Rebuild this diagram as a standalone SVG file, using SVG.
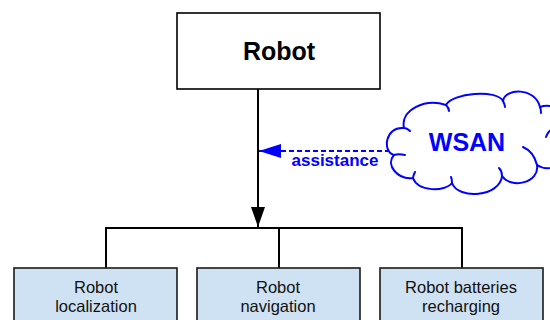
<svg xmlns="http://www.w3.org/2000/svg" width="550" height="320" viewBox="0 0 550 320">
  <defs>
    <marker id="arrowBlack" viewBox="0 0 20 14" refX="20" refY="7" markerWidth="20" markerHeight="14" markerUnits="userSpaceOnUse" orient="auto">
      <path d="M0,0 L20,7 L0,14 Z" fill="#000"/>
    </marker>
    <marker id="arrowBlue" viewBox="0 0 22 14" refX="22" refY="7" markerWidth="22" markerHeight="14" markerUnits="userSpaceOnUse" orient="auto">
      <path d="M0,0 L22,7 L0,14 Z" fill="#0000ff"/>
    </marker>
    <style>
      .box { fill: #ffffff; stroke: #000; stroke-width: 1.6; }
      .task { fill: #cfe2f3; stroke: #1a1a1a; stroke-width: 1.6; }
      .wire { fill: none; stroke: #000; stroke-width: 2; }
      .label { font-family: "Liberation Sans", Arial, sans-serif; font-size: 16.5px; fill: #111; text-anchor: middle; }
      .title { font-family: "Liberation Sans", Arial, sans-serif; font-size: 25px; font-weight: bold; fill: #000; text-anchor: middle; }
      .blue { font-family: "Liberation Sans", Arial, sans-serif; font-weight: bold; fill: #0000ff; text-anchor: middle; }
      .cloud { fill: #ffffff; stroke: #0000ff; stroke-width: 2; stroke-linejoin: round; stroke-linecap: round; }
      .curl { fill: none; stroke: #0000ff; stroke-width: 2; stroke-linecap: round; }
    </style>
  </defs>

  <!-- connectors -->
  <g id="connectors">
    <line class="wire" x1="258" y1="89" x2="258" y2="227" marker-end="url(#arrowBlack)"/>
    <polyline class="wire" points="106,268 106,228 462,228 462,268"/>
    <line class="wire" x1="279" y1="228" x2="279" y2="268"/>
    <line x1="390" y1="151" x2="259" y2="151" stroke="#0000ff" stroke-width="2" stroke-dasharray="5,3" marker-end="url(#arrowBlue)"/>
    <text class="blue" x="335" y="166" font-size="17px">assistance</text>
  </g>

  <!-- top node -->
  <g id="robot">
    <rect class="box" x="177" y="13" width="203" height="76"/>
    <text class="title" x="279" y="60">Robot</text>
  </g>

  <!-- sensor network cloud -->
  <g id="wsan">
    <path class="cloud" d="M404,128
      C400,110 425,98 446,105
      C452,93 497,89 503,101
      C505,88 535,87 540,107
      C560,100 572,125 562,140
      C575,160 552,175 537,165
      C540,182 512,190 502,176
      C500,197 458,200 452,183
      C445,192 418,192 413,178
      C398,180 385,165 394,155
      C382,152 385,126 404,128 Z"/>
    <path class="curl" d="M446,105 C448,107 449,109 449,111"/>
    <path class="curl" d="M503,101 C504,103 505,105 505,107"/>
    <path class="curl" d="M540,107 C541,109 541,111 541,113"/>
    <path class="curl" d="M546,137 C547,134 549,131 551,130"/>
    <path class="curl" d="M537,165 C535,157 530,150 523,147"/>
    <path class="curl" d="M502,176 C502,173 501,170 499,168"/>
    <path class="curl" d="M452,183 C452,181 452,179 451,177"/>
    <path class="curl" d="M413,178 C413,176 414,174 415,172"/>
    <path class="curl" d="M394,155 C397,154 401,154 405,155"/>
    <path class="curl" d="M404,128 C406,128 408,129 410,131"/>
    <text class="blue" x="467" y="151" font-size="25px">WSAN</text>
  </g>

  <!-- task nodes -->
  <g id="localization">
    <rect class="task" x="14" y="268" width="163" height="60"/>
    <text class="label" x="96" y="293">Robot</text>
    <text class="label" x="96" y="312">localization</text>
  </g>
  <g id="navigation">
    <rect class="task" x="197" y="268" width="163" height="60"/>
    <text class="label" x="278" y="293">Robot</text>
    <text class="label" x="278" y="312">navigation</text>
  </g>
  <g id="recharging">
    <rect class="task" x="380" y="268" width="163" height="60"/>
    <text class="label" x="461" y="293">Robot batteries</text>
    <text class="label" x="461" y="312">recharging</text>
  </g>
</svg>
